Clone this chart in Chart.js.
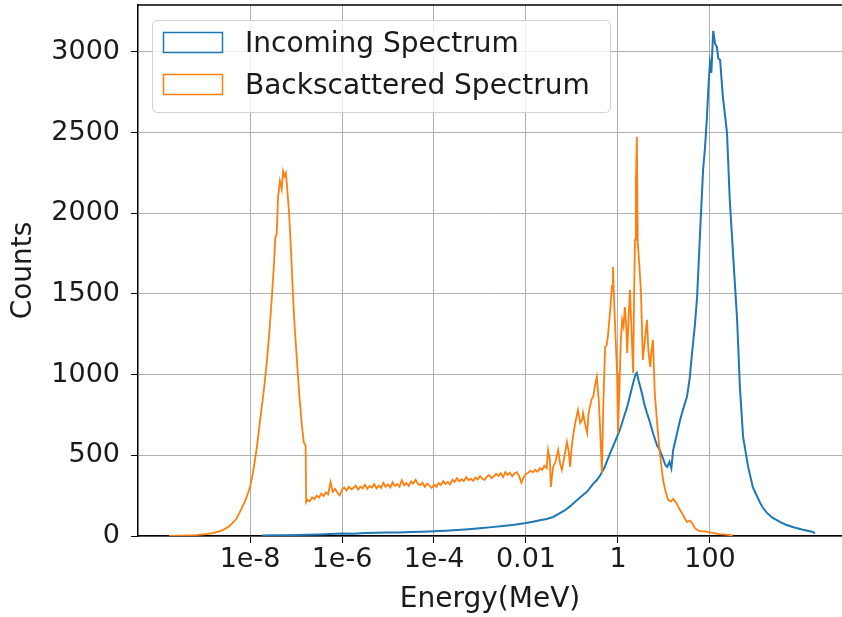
<!DOCTYPE html>
<html lang="en">
<head>
  <meta charset="UTF-8">
  <title>Incoming vs Backscattered Spectrum</title>
  <script src="https://cdn.jsdelivr.net/npm/chart.js"></script>
  <style>
    body {
      margin: 0;
      background: #fff;
      overflow: hidden;
    }
    #wrap {
      width: 842px;
      height: 617px;
    }
  </style>
</head>
<body>
  <div id="wrap"><canvas id="grafico" width="842" height="617"></canvas></div>

  <script>
const incomingLogE = [
  -7.74, -7.5, -7.25, -7.0, -6.75, -6.5, -6.25, -6.0, -5.75, -5.5, -5.25, -5.0, -4.75, -4.5, -4.25,
  -4.0, -3.75, -3.5, -3.25, -3.0, -2.75, -2.5, -2.25, -2.0, -1.85, -1.7, -1.55, -1.41, -1.3, -1.15,
  -1.04, -0.9, -0.78, -0.67, -0.55, -0.45, -0.39, -0.3, -0.17, -0.1, 0.04, 0.12, 0.2, 0.27, 0.33,
  0.38, 0.41, 0.45, 0.52, 0.57, 0.63, 0.7, 0.76, 0.85, 0.91, 0.98, 1.03, 1.07, 1.12, 1.16,
  1.2, 1.27, 1.35, 1.42, 1.5, 1.56, 1.61, 1.67, 1.72, 1.78, 1.85, 1.89, 1.93, 1.97, 2.0,
  2.03, 2.07, 2.11, 2.15, 2.18, 2.22, 2.28, 2.33, 2.37, 2.43, 2.5, 2.59, 2.65, 2.72, 2.83,
  2.93, 3.0, 3.09, 3.15, 3.24, 3.35, 3.52, 3.65, 3.8, 4.0, 4.24, 4.28
];
const incomingCounts = [
  3, 4, 5, 6, 8, 10, 12, 15, 14, 18, 20, 22, 21, 25, 27,
  30, 33, 37, 42, 48, 55, 62, 70, 80, 88, 98, 105, 118, 135, 160,
  185, 220, 250, 275, 320, 350, 375, 420, 514, 560, 657, 730, 800, 880, 948,
  1000, 1010, 960, 886, 820, 762, 700, 638, 560, 533, 480, 440, 428, 460, 420,
  533, 620, 719, 790, 862, 980, 1134, 1300, 1481, 1853, 2269, 2400, 2578, 2800, 2932,
  2870, 3130, 3050, 3031, 2960, 2950, 2721, 2600, 2498, 2083, 1754, 1339, 924, 614, 428,
  304, 260, 205, 175, 143, 115, 87, 70, 56, 40, 25, 15
];

const backLogE = [
  -9.76, -9.5, -9.2, -9.0, -8.8, -8.6, -8.45, -8.3, -8.2, -8.1, -8.0, -7.93, -7.85, -7.78, -7.7,
  -7.63, -7.57, -7.52, -7.48, -7.45, -7.42, -7.39, -7.35, -7.31, -7.28, -7.25, -7.22, -7.19, -7.15, -7.11,
  -7.07, -7.03, -6.98, -6.93, -6.87, -6.83, -6.79, -6.78,
  -6.75, -6.7, -6.65, -6.6, -6.55, -6.5, -6.45, -6.4, -6.35, -6.3, -6.25, -6.2, -6.15, -6.1, -6.05, -6.0,
  -5.95, -5.9, -5.85, -5.8, -5.75, -5.7, -5.65, -5.6, -5.55, -5.5, -5.45, -5.4, -5.35, -5.3, -5.25, -5.2,
  -5.15, -5.1, -5.05, -5.0, -4.95, -4.9, -4.85, -4.8, -4.75, -4.7, -4.65, -4.6, -4.55, -4.5, -4.45, -4.4,
  -4.35, -4.3, -4.25, -4.2, -4.15, -4.1, -4.05, -4.0, -3.95, -3.9, -3.85, -3.8, -3.75, -3.7, -3.65, -3.6,
  -3.55, -3.5, -3.45, -3.4, -3.35, -3.3, -3.25, -3.2, -3.15, -3.1, -3.05, -3.0, -2.95, -2.9, -2.85, -2.8,
  -2.75, -2.7, -2.65, -2.6, -2.55, -2.5, -2.45, -2.4, -2.35, -2.3, -2.25, -2.2, -2.15, -2.1, -2.05, -2.0,
  -1.95, -1.9, -1.85, -1.8, -1.75, -1.7, -1.65, -1.6, -1.55, -1.52, -1.48, -1.46, -1.41, -1.36, -1.3,
  -1.26, -1.22, -1.16, -1.11, -1.07, -1.04, -1.01, -0.98, -0.93, -0.87, -0.82, -0.78, -0.76, -0.72, -0.67,
  -0.64, -0.61, -0.57, -0.54, -0.5, -0.46, -0.42, -0.39, -0.35, -0.32, -0.28, -0.25, -0.22, -0.17, -0.13,
  -0.11, -0.07, -0.02, 0.0, 0.03, 0.06, 0.09, 0.12, 0.15, 0.18, 0.2, 0.23, 0.26, 0.29, 0.33,
  0.35, 0.37, 0.39, 0.41, 0.43, 0.46, 0.5, 0.54, 0.58, 0.63, 0.66, 0.7, 0.73, 0.76, 0.8,
  0.85, 0.91, 0.95, 0.98, 1.03, 1.09, 1.15, 1.2, 1.28, 1.33, 1.39, 1.45, 1.5, 1.56, 1.61,
  1.67, 1.72, 1.8, 1.9, 2.0, 2.2, 2.35, 2.5
];
const backCounts = [
  0, 2, 5, 10, 18, 35, 60, 105, 160, 220, 300, 400, 550, 720, 900,
  1090, 1300, 1500, 1680, 1850, 1870, 2100, 2200, 2150, 2260, 2230, 2250, 2150, 2000, 1780,
  1520, 1300, 1090, 880, 680, 580, 560, 210,
  225, 215, 240, 228, 250, 238, 262, 248, 270, 258, 335, 275, 292, 268, 252, 288,
  300, 282, 305, 290, 298, 312, 288, 305, 296, 318, 292, 310, 300, 322, 295, 312,
  298, 330, 305, 318, 300, 332, 310, 322, 305, 345, 315, 328, 310, 338, 325, 348,
  322, 315, 330, 305, 325, 312, 298, 318, 305, 328, 315, 340, 322, 335, 320, 348,
  335, 358, 338, 352, 340, 365, 345, 355, 342, 362, 350, 372, 355, 348, 368, 378,
  358, 370, 385, 372, 390, 365, 395, 378, 392, 370, 388, 395, 372, 330, 365, 385,
  392, 405, 395, 410, 398, 420, 410, 435, 420, 533, 470, 304, 428, 460, 533,
  450, 409, 500, 583, 520, 428, 540, 614, 700, 781, 700, 719, 762, 700, 638,
  760, 800, 850, 862, 930, 986, 850, 676, 390, 800, 1171, 1180, 1234, 1400, 1550,
  1667, 1350, 1010, 638, 900, 1200, 1339, 1300, 1419, 1300, 1134, 1350, 1525, 1300, 1010,
  1500, 1835, 2200, 2473, 1816, 1700, 1506, 1091, 1200, 1339, 1150, 1048, 1150, 1215, 886,
  700, 514, 420, 347, 280, 223, 215, 230, 200, 170, 143, 110, 87, 95, 80,
  50, 37, 30, 27, 22, 12, 8, 3
];

const xTicks = [1e-8, 1e-6, 1e-4, 0.01, 1, 100];
const xTickLabels = ['1e-8', '1e-6', '1e-4', '0.01', '1', '100'];
const yTicks = [0, 500, 1000, 1500, 2000, 2500, 3000];

const toPoints = (logs, counts) => logs.map((l, i) => ({ x: Math.pow(10, l), y: counts[i] }));

const FONT = "'DejaVu Sans', sans-serif";

// matplotlib style frame top + legend box inside the axes
const molduraELegenda = {
  id: 'molduraELegenda',
  afterDraw(chart) {
    const { ctx, chartArea } = chart;
    ctx.save();
    ctx.strokeStyle = '#000';
    ctx.lineWidth = 1.5;
    ctx.beginPath();
    ctx.moveTo(chartArea.left, chartArea.top);
    ctx.lineTo(chartArea.right, chartArea.top);
    ctx.stroke();

    ctx.fillStyle = 'rgba(255,255,255,0.8)';
    ctx.strokeStyle = '#d0d0d0';
    ctx.lineWidth = 1;
    ctx.beginPath();
    ctx.roundRect(152.5, 20.5, 458, 92, 5);
    ctx.fill();
    ctx.stroke();

    ctx.font = `28px ${FONT}`;
    ctx.textBaseline = 'alphabetic';
    chart.data.datasets.forEach((ds, i) => {
      const y = 32 + i * 42;
      ctx.strokeStyle = ds.borderColor;
      ctx.lineWidth = 1.5;
      ctx.strokeRect(163.5, y + 0.5, 59, 20);
      ctx.fillStyle = '#1a1a1a';
      ctx.fillText(ds.label, 245, y + 20);
    });
    ctx.restore();
  }
};

new Chart(document.getElementById('grafico').getContext('2d'), {
  type: 'line',
  data: {
    datasets: [
      {
        label: 'Incoming Spectrum',
        data: toPoints(incomingLogE, incomingCounts),
        borderColor: '#1f77b4',
        borderWidth: 2,
        pointRadius: 0,
        tension: 0,
        fill: false,
        order: 2
      },
      {
        label: 'Backscattered Spectrum',
        data: toPoints(backLogE, backCounts),
        borderColor: '#ff7f0e',
        borderWidth: 1.8,
        pointRadius: 0,
        tension: 0,
        fill: false,
        order: 1
      }
    ]
  },
  options: {
    responsive: false,
    animation: false,
    devicePixelRatio: 1,
    layout: { padding: { top: 5, left: 0, right: 0, bottom: 0 } },
    plugins: {
      legend: { display: false },
      tooltip: { enabled: false }
    },
    scales: {
      x: {
        type: 'logarithmic',
        min: Math.pow(10, -10.435),
        max: Math.pow(10, 4.87),
        afterBuildTicks: (scale) => { scale.ticks = xTicks.map(v => ({ value: v })); },
        afterFit: (scale) => {
          scale.height = 81;
          scale.paddingLeft = 0;
          scale.paddingRight = 0;
        },
        ticks: {
          autoSkip: false,
          maxRotation: 0,
          padding: 1,
          color: '#1a1a1a',
          font: { family: FONT, size: 27 },
          callback: (value) => xTickLabels[xTicks.indexOf(value)]
        },
        grid: { color: '#b0b0b0', lineWidth: 1, tickLength: 7, tickColor: '#000' },
        border: { color: '#000', width: 1.5 },
        title: {
          display: true,
          text: 'Energy(MeV)',
          color: '#1a1a1a',
          font: { family: FONT, size: 28 },
          padding: { top: 0, bottom: 0 }
        }
      },
      y: {
        min: 0,
        max: 3290,
        afterBuildTicks: (scale) => { scale.ticks = yTicks.map(v => ({ value: v })); },
        afterFit: (scale) => {
          scale.width = 138;
          scale.paddingTop = 0;
          scale.paddingBottom = 0;
        },
        ticks: {
          padding: 11,
          color: '#1a1a1a',
          font: { family: FONT, size: 27 },
          callback: (value) => String(value)
        },
        grid: { color: '#b0b0b0', lineWidth: 1, tickLength: 7, tickColor: '#000' },
        border: { color: '#000', width: 1.5 },
        title: {
          display: true,
          text: 'Counts',
          color: '#1a1a1a',
          font: { family: FONT, size: 28 },
          padding: { top: 7, bottom: 0 }
        }
      }
    }
  },
  plugins: [molduraELegenda]
});
</script>
</body>
</html>
